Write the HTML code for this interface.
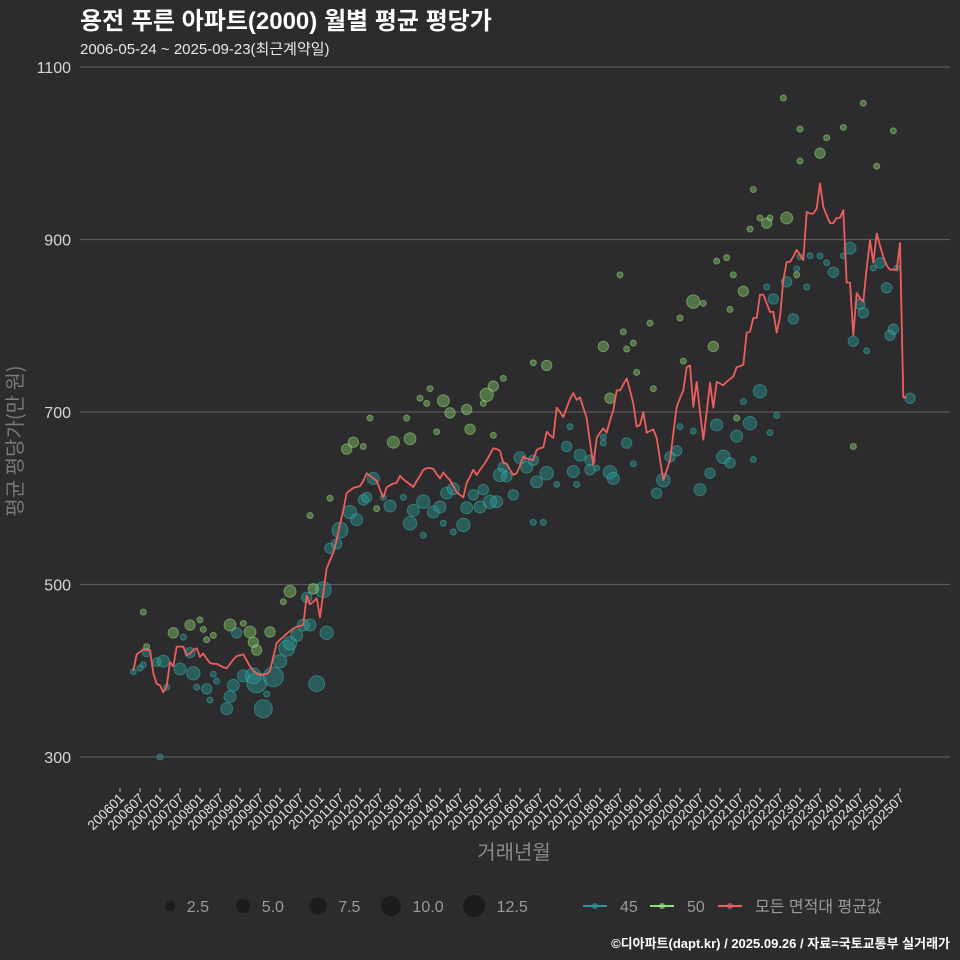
<!DOCTYPE html>
<html><head><meta charset="utf-8"><style>
html,body{margin:0;padding:0;background:#2c2b2d;}
svg{display:block;font-family:"Liberation Sans","Noto Sans CJK KR",sans-serif;}
</style></head><body>
<svg id="chart" width="960" height="960" viewBox="0 0 960 960">
<rect x="0" y="0" width="960" height="960" fill="#2c2b2d"/>
<text x="80" y="29" font-size="24" font-weight="bold" fill="#ffffff">용전 푸른 아파트(2000) 월별 평균 평당가</text>
<text x="80" y="54" font-size="15" fill="#e8e8e8">2006-05-24 ~ 2025-09-23(최근계약일)</text>
<g id="grid"></g>
<g id="yticks"></g>
<g id="xticks"></g>
<g id="bubbles"></g>
<g id="line"></g>
<text transform="translate(22,441) rotate(-90)" text-anchor="middle" font-size="20" fill="#7a7a7a" font-family="Noto Sans CJK KR, sans-serif">평균 평당가(만 원)</text>
<text x="514" y="859" text-anchor="middle" font-size="20" fill="#8a8a8a">거래년월</text>
<g id="legend"></g>
<text x="950" y="948" text-anchor="end" font-size="13" font-weight="bold" fill="#ffffff">©디아파트(dapt.kr) / 2025.09.26 / 자료=국토교통부 실거래가</text>
</svg>
<script>
// y ticks
const yTicks = [300, 500, 700, 900, 1100];
// x tick labels (every 6 months from 2006-01)
const xTickLabels = ["200601","200607","200701","200707","200801","200807","200901","200907","201001","201007","201101","201107","201201","201207","201301","201307","201401","201407","201501","201507","201601","201607","201701","201707","201801","201807","201901","201907","202001","202007","202101","202107","202201","202207","202301","202307","202401","202407","202501","202507"];
// average line: first month index (months since 2006-01) and monthly values
const lineStartMonth = 4;
const lineValues = [400,419,422,425,424,424,397,385,383,375,382,410,405,428,428,428,418,420,424,426,416,420,414,409,408,408,406,404,403,408,413,417,418,419,412,405,400,397,395,396,396,400,416,432,436,439,443,446,449,451,452,453,487,477,480,484,462,490,519,528,537,552,570,586,606,609,612,613,614,620,629,626,623,620,610,601,613,615,617,618,626,622,619,616,613,620,626,633,635,635,634,628,623,630,625,621,614,607,604,601,618,625,633,627,633,638,644,651,658,657,655,641,640,633,627,629,638,648,646,645,644,656,658,659,677,673,670,705,700,694,705,715,722,714,717,705,693,665,639,670,676,681,676,690,702,725,725,732,739,725,710,683,685,700,676,678,680,670,645,621,632,644,675,706,716,725,752,754,706,735,700,668,700,734,705,735,733,731,735,738,741,752,753,755,792,793,809,809,836,836,826,816,816,792,810,853,874,874,880,888,882,876,932,930,930,936,965,938,928,919,919,925,925,934,850,850,789,838,832,828,867,899,873,907,893,880,870,865,865,865,896,717,717];
// 45 type bubbles: month index, value, count
const t45Month = [4,6,7,8,11,13,14,18,19,21,22,23,26,27,28,29,32,33,34,35,37,40,41,43,44,46,48,50,51,53,55,57,56,59,61,62,63,65,66,69,71,73,74,76,79,81,85,87,88,91,91,94,96,97,98,100,103,100,104,106,108,109,111,113,115,114,116,118,120,122,124,124,125,127,128,131,134,135,136,137,138,141,141,143,145,145,147,148,152,154,161,163,165,167,168,172,174,177,179,181,183,185,187,189,190,192,195,197,194,196,200,202,203,204,206,207,210,212,214,217,219,220,222,223,224,226,228,230,231,232,233,237,12];
const t45Value = [399,403,407,421,410,411,381,402,439,421,397,381,379,366,396,388,356,370,383,444,394,394,386,356,373,393,411,426,432,441,453,453,485,385,494,444,542,547,563,584,575,598,601,623,601,591,601,571,586,557,596,584,590,571,606,611,569,561,589,604,590,610,596,596,636,627,625,604,647,636,572,644,619,572,629,616,660,683,631,616,650,644,633,635,664,671,630,623,664,640,606,621,648,655,683,678,610,629,685,648,641,672,712,687,645,724,676,696,845,831,851,808,866,880,845,881,881,873,862,881,890,782,825,815,771,867,873,844,789,796,867,716,300];
const t45Count = [1,1,1,2,2,4,1,4,1,3,5,1,3,1,1,1,4,4,4,3,4,7,11,9,1,11,5,7,5,4,4,4,3,7,7,5,3,3,7,5,4,3,3,4,1,4,1,5,4,1,5,4,4,1,4,4,5,1,4,3,4,3,5,4,3,5,3,3,4,4,1,3,4,1,5,1,3,1,4,1,4,3,3,1,1,1,5,4,3,1,3,5,3,3,1,1,4,3,4,5,3,4,1,5,1,5,1,1,1,3,3,3,1,1,1,1,1,1,3,1,4,3,3,3,1,1,3,3,3,3,1,3,1];
// 50 type bubbles
const t50Month = [7,8,16,21,24,25,26,28,33,37,39,40,41,45,49,51,58,57,63,68,70,73,75,77,82,86,87,90,92,93,95,97,99,104,105,109,110,112,112,115,124,128,147,145,150,151,152,154,155,159,160,168,169,172,175,178,179,182,183,184,185,187,189,190,192,194,195,200,203,204,199,204,210,212,217,223,227,232,220];
const t50Value = [468,428,444,453,459,448,436,441,453,455,445,433,424,445,480,492,495,580,600,657,665,660,693,588,665,693,669,716,710,727,677,713,699,703,680,710,720,730,673,739,757,754,716,776,859,793,773,780,746,803,727,809,759,828,826,776,875,879,819,859,693,840,912,958,925,919,925,925,859,991,1064,1028,1000,1018,1030,1058,985,1026,660];
const t50Count = [1,1,3,3,1,1,1,1,4,1,4,3,3,3,1,4,3,1,1,3,3,1,1,1,4,1,4,1,1,1,1,4,3,3,3,1,5,3,1,1,1,3,3,3,1,1,1,1,1,1,1,1,1,5,1,3,1,1,1,1,1,3,1,1,1,3,1,4,1,1,1,1,3,1,1,1,1,1,1];

const NS = "http://www.w3.org/2000/svg";
function xScale(m){ return 120 + m * 10 / 3; }
function yScale(v){ return 757 - (v - 300) * 0.8625; }
function rScale(c){ return 3 * Math.sqrt(c); }
function mk(tag, attrs, parent){
  const el = document.createElementNS(NS, tag);
  for (const k in attrs) el.setAttribute(k, attrs[k]);
  parent.appendChild(el);
  return el;
}
const grid = document.getElementById('grid');
const yg = document.getElementById('yticks');
yTicks.forEach(v => {
  const l = mk('line', {x1:80, x2:950, y1:yScale(v), y2:yScale(v), stroke:'#5a5a5a', 'stroke-width':1.3}, grid);
  
  
  const t = mk('text', {x:71, y:yScale(v)+6, 'text-anchor':'end', 'font-size':16, fill:'#d6d6d6'}, yg);
  t.textContent = v;
  
  
});
const xg = document.getElementById('xticks');
xTickLabels.forEach((lab, i) => {
  const x = xScale(i * 6);
  const tk = mk('line', {x1:x, x2:x, y1:788, y2:792, stroke:'#bbbbbb', 'stroke-width':1}, xg);
  
  
  const t = mk('text', {transform:'translate(' + (x+5) + ',799) rotate(-45)', 'text-anchor':'end', 'font-size':13.5, fill:'#e6e6e6'}, xg);
  t.textContent = lab;
  
  
});
const bg = document.getElementById('bubbles');
function drawBubbles(ms, vs, cs, fill, stroke, name){
  ms.forEach((m, i) => {
    const c = mk('circle', {cx:xScale(m), cy:yScale(vs[i]), r:rScale(cs[i]), fill:fill, 'fill-opacity':0.45, stroke:stroke, 'stroke-opacity':0.5, 'stroke-width':1}, bg);
    
    
  });
}
drawBubbles(t45Month, t45Value, t45Count, '#2a9896', '#3fb3ae', 'bubble-45');
drawBubbles(t50Month, t50Value, t50Count, '#84c96a', '#9de07e', 'bubble-50');
const pts = lineValues.map((v, i) => xScale(lineStartMonth + i).toFixed(1) + ',' + yScale(v).toFixed(1)).join(' ');
const pl = mk('polyline', {points:pts, fill:'none', stroke:'#ec5f5d', 'stroke-width':1.8, 'stroke-linejoin':'round'}, document.getElementById('line'));



// legend
const lg = document.getElementById('legend');
const sizeVals = [2.5, 5.0, 7.5, 10.0, 12.5];
const sizeX = [170, 243, 318, 391, 474];
sizeVals.forEach((s, i) => {
  const c = mk('circle', {cx:sizeX[i], cy:906, r:rScale(s)*1.05, fill:'#1c1c1d'}, lg);
  
  
  const t = mk('text', {x:sizeX[i] + rScale(s) + 12, y:912, 'font-size':16, fill:'#9a9a9a'}, lg);
  t.textContent = s.toFixed(1);
  
  
});
const lItems = [['45','#2a9896',583],['50','#8fe07a',650],['모든 면적대 평균값','#ec5f5d',718]];
lItems.forEach(it => {
  const l = mk('line', {x1:it[2], x2:it[2]+24, y1:906, y2:906, stroke:it[1], 'stroke-width':2}, lg);
  
  
  const d = mk('circle', {cx:it[2]+12, cy:906, r:3, fill:it[1], 'fill-opacity':0.7}, lg);
  
  
  const t = mk('text', {x:it[2]+37, y:912, 'font-size':16, fill:'#9a9a9a'}, lg);
  t.textContent = it[0];
  
  
});
</script>
</body></html>
